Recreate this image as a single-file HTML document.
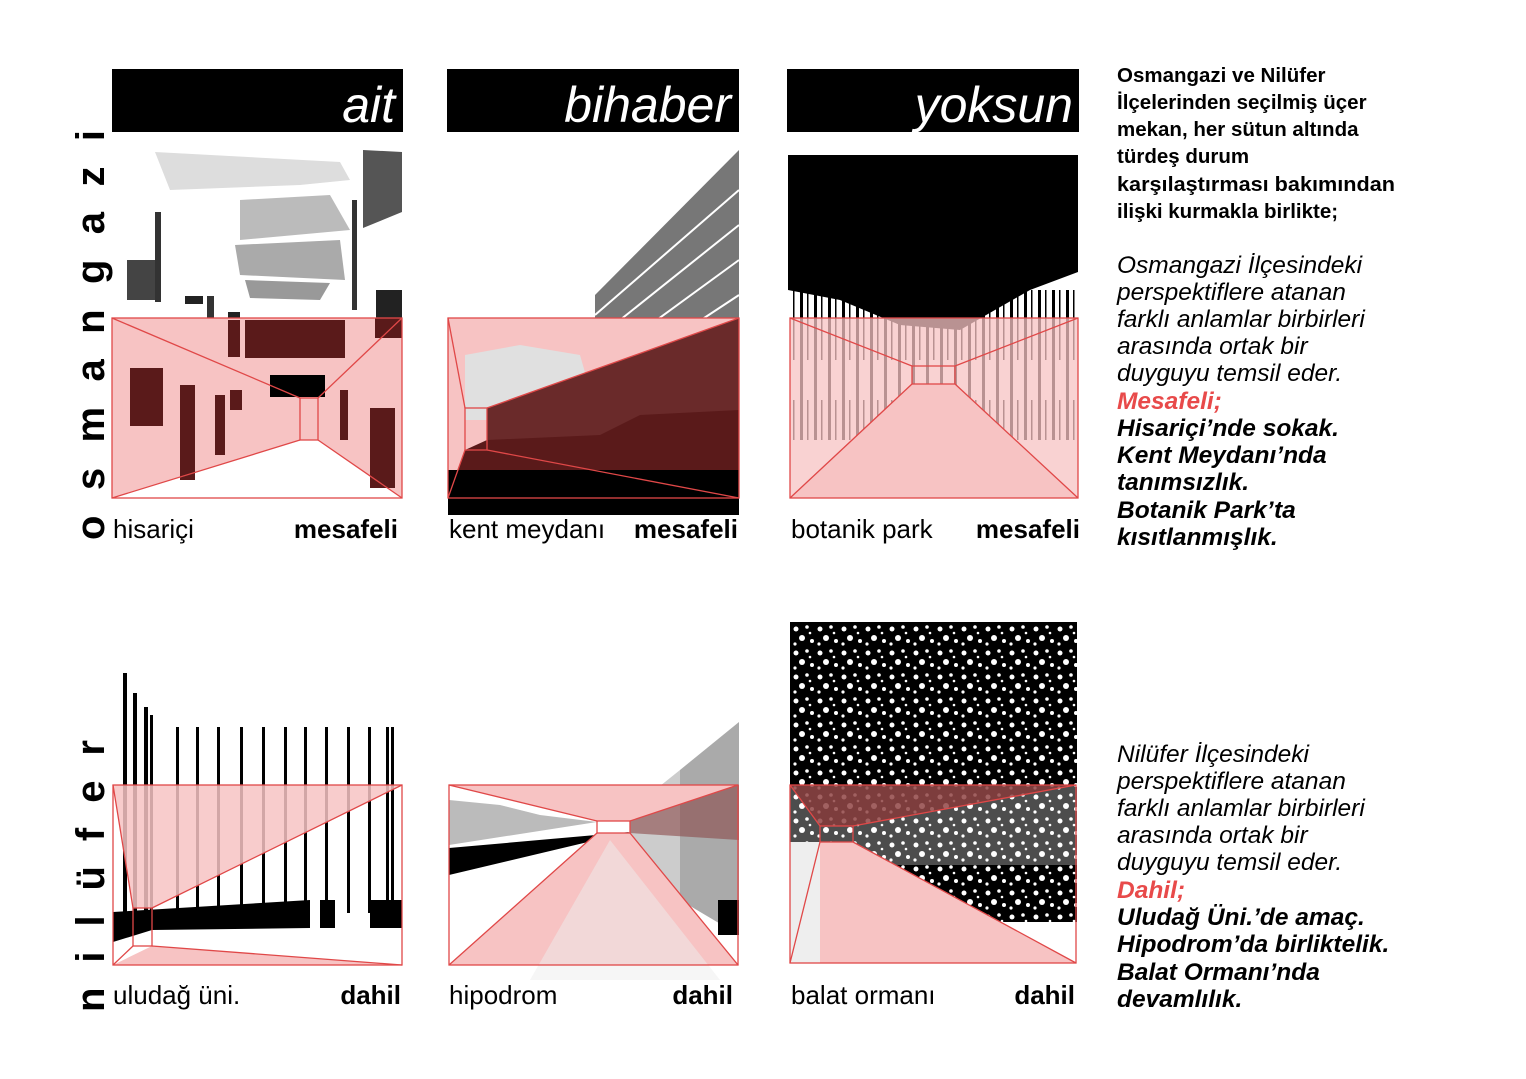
<!DOCTYPE html>
<html><head><meta charset="utf-8"><style>
html,body{margin:0;padding:0;background:#fff;}
svg{display:block}
text{font-family:"Liberation Sans",sans-serif}
</style></head><body>
<svg width="1526" height="1079" viewBox="0 0 1526 1079" xmlns="http://www.w3.org/2000/svg">
<defs>
<pattern id="noise" width="24" height="24" patternUnits="userSpaceOnUse">
<rect width="24" height="24" fill="#000"/>
<circle cx="4" cy="5" r="2.5" fill="#fff"/><circle cx="15" cy="3" r="1.8" fill="#fff"/>
<circle cx="10" cy="14" r="3" fill="#fff"/><circle cx="20" cy="17" r="2" fill="#fff"/>
<circle cx="3" cy="20" r="1.6" fill="#fff"/><circle cx="18" cy="9" r="1.3" fill="#fff"/>
</pattern>
<pattern id="trees" width="14" height="200" patternUnits="userSpaceOnUse">
<rect width="14" height="200" fill="#fff"/>
<rect x="2" width="3" height="200" fill="#000"/><rect x="9" width="1.5" height="160" fill="#000"/>
</pattern>
</defs>

<rect x="112" y="69" width="291" height="63" fill="#000"/>
<text x="395" y="122" font-size="50" font-style="italic" fill="#fff" text-anchor="end">ait</text>
<rect x="447" y="69" width="292" height="63" fill="#000"/>
<text x="731" y="122" font-size="50" font-style="italic" fill="#fff" text-anchor="end">bihaber</text>
<rect x="787" y="69" width="292" height="63" fill="#000"/>
<text x="1073" y="122" font-size="50" font-style="italic" fill="#fff" text-anchor="end">yoksun</text>

<text transform="translate(104,540) rotate(-90)" font-size="40" font-weight="bold" textLength="410" lengthAdjust="spacing">osmangazi</text>
<text transform="translate(104,1012) rotate(-90)" font-size="40" font-weight="bold" textLength="272" lengthAdjust="spacing">nilüfer</text>

<g>
<path d="M155 152 L340 162 L350 180 L300 185 L170 190 Z" fill="#ddd"/>
<path d="M240 200 L330 195 L350 230 L240 240 Z" fill="#bbb"/>
<path d="M235 245 L340 240 L345 280 L240 275 Z" fill="#aaa"/>
<path d="M245 280 L330 283 L320 300 L250 298 Z" fill="#999"/>
<path d="M363 150 L402 152 L402 212 L363 228 Z" fill="#555"/>
<rect x="127" y="260" width="30" height="40" fill="#444"/>
<rect x="155" y="212" width="6" height="90" fill="#333"/>
<rect x="352" y="200" width="5" height="110" fill="#333"/>
<rect x="376" y="290" width="26" height="28" fill="#222"/>
<rect x="185" y="296" width="18" height="8" fill="#222"/>
<rect x="207" y="296" width="7" height="55" fill="#333"/>
<rect x="228" y="312" width="12" height="45" fill="#222"/>
<rect x="245" y="320" width="100" height="38" fill="#222"/>
<path d="M112 318 H402 V498 H112 Z" fill="#f7c3c3"/>
<path d="M112 498 L300 440 H318 L402 498 Z" fill="#fff"/>
<rect x="245" y="320" width="100" height="38" fill="#5a1a1a"/>
<rect x="228" y="320" width="12" height="37" fill="#5a1a1a"/>
<rect x="130" y="368" width="33" height="58" fill="#5a1a1a"/>
<rect x="180" y="385" width="15" height="95" fill="#5a1a1a"/>
<rect x="215" y="395" width="10" height="60" fill="#5a1a1a"/>
<rect x="230" y="390" width="12" height="20" fill="#5a1a1a"/>
<rect x="270" y="375" width="55" height="22" fill="#000"/>
<rect x="340" y="390" width="8" height="50" fill="#5a1a1a"/>
<rect x="370" y="408" width="25" height="80" fill="#5a1a1a"/>
<rect x="375" y="318" width="27" height="20" fill="#5a1a1a"/>
<g fill="none" stroke="#e04848" stroke-width="1.3">
<rect x="112" y="318" width="290" height="180"/>
<rect x="300" y="398" width="18" height="42"/>
<path d="M112 318 L300 398 M402 318 L318 398 M112 498 L300 440 M402 498 L318 440"/>
</g>
</g>

<g>
<path d="M595 295 L739 150 V450 L595 450 Z" fill="#777"/>
<g stroke="#fff" stroke-width="2"><path d="M595 315 L739 190 M595 340 L739 225 M595 365 L739 260 M595 390 L739 295"/></g>
<path d="M448 318 H739 V498 H448 Z" fill="#f7c3c3"/>
<path d="M465 355 L520 345 L580 355 L590 390 L487 420 L465 420 Z" fill="#e0e0e0"/>
<path d="M487 408 L739 318 V450 L487 450 Z" fill="#6a2a2a"/>
<path d="M487 440 L600 435 L640 415 L739 410 V498 L448 498 L465 450 Z" fill="#5a1a1a"/>
<path d="M448 470 L739 470 V515 H448 Z" fill="#000"/>
<g fill="none" stroke="#e04848" stroke-width="1.3">
<rect x="448" y="318" width="291" height="180"/>
<rect x="465" y="408" width="22" height="42"/>
<path d="M448 318 L465 408 M739 318 L487 408 M448 498 L465 450 M739 498 L487 450"/>
</g>
</g>

<g>
<rect x="790" y="290" width="288" height="150" fill="url(#trees)"/>
<path d="M788 155 H1078 V272 L1030 290 L960 330 L900 325 L840 300 L788 290 Z" fill="#000"/>
<path d="M790 318 H1078 V498 H790 Z" fill="#f7c3c3" opacity="0.75"/>
<path d="M790 498 L912 384 H955 L1078 498 Z" fill="#f7c3c3"/>
<g fill="none" stroke="#e04848" stroke-width="1.3">
<rect x="790" y="318" width="288" height="180"/>
<rect x="912" y="366" width="43" height="18"/>
<path d="M790 318 L912 366 M1078 318 L955 366 M790 498 L912 384 M1078 498 L955 384"/>
</g>
</g>

<g font-size="26">
<text x="113" y="538">hisariçi</text><text x="398" y="538" font-weight="bold" text-anchor="end">mesafeli</text>
<text x="449" y="538">kent meydanı</text><text x="738" y="538" font-weight="bold" text-anchor="end">mesafeli</text>
<text x="791" y="538">botanik park</text><text x="1080" y="538" font-weight="bold" text-anchor="end">mesafeli</text>
</g>

<g>
<g fill="#000">
<rect x="123" y="673" width="4" height="240"/><rect x="133" y="693" width="4" height="220"/>
<rect x="144" y="707" width="4" height="206"/><rect x="150" y="715" width="3" height="198"/>
<rect x="176" y="727" width="3" height="186"/><rect x="196" y="727" width="3" height="186"/>
<rect x="217" y="727" width="3" height="186"/><rect x="240" y="727" width="3" height="186"/>
<rect x="262" y="727" width="3" height="186"/><rect x="284" y="727" width="3" height="186"/>
<rect x="304" y="727" width="3" height="186"/><rect x="325" y="727" width="3" height="186"/>
<rect x="347" y="727" width="3" height="186"/><rect x="368" y="727" width="3" height="186"/>
<rect x="386" y="727" width="3" height="186"/><rect x="391" y="727" width="3" height="186"/>
</g>
<path d="M113 785 H402 L152 908 H133 Z" fill="#f7c3c3" opacity="0.85"/>
<path d="M113 912 L310 900 V928 L152 930 L113 942 Z" fill="#000"/>
<rect x="320" y="900" width="15" height="28" fill="#000"/>
<rect x="370" y="900" width="32" height="28" fill="#000"/>
<path d="M113 965 L152 946 L402 965 Z" fill="#f7c3c3"/>
<g fill="none" stroke="#e04848" stroke-width="1.3">
<rect x="113" y="785" width="289" height="180"/>
<rect x="133" y="908" width="19" height="38"/>
<path d="M113 785 L133 908 M402 785 L152 908 M113 965 L133 946 M402 965 L152 946"/>
</g>
</g>

<g>
<path d="M680 770 L739 722 V935 L680 900 Z" fill="#aaa"/>
<path d="M630 810 L680 770 V900 L630 835 Z" fill="#ccc"/>
<path d="M449 800 L500 805 L540 815 L597 822 L449 845 Z" fill="#bbb"/>
<path d="M449 848 L630 832 L449 875 Z" fill="#000"/>
<path d="M449 785 H739 L630 821 H597 Z" fill="#f7c3c3"/>
<path d="M449 965 L597 833 H630 L739 965 Z" fill="#f7c3c3"/>
<path d="M530 980 L610 840 L720 980 Z" fill="#eee" opacity="0.5"/>
<path d="M630 821 L739 785 V840 L630 833 Z" fill="#8a4a4a" opacity="0.6"/>
<rect x="718" y="900" width="21" height="35" fill="#000"/>
<g fill="none" stroke="#e04848" stroke-width="1.3">
<rect x="449" y="785" width="289" height="180"/>
<rect x="597" y="821" width="33" height="12"/>
<path d="M449 785 L597 821 M738 785 L630 821 M449 965 L597 833 M738 965 L630 833"/>
</g>
</g>

<g>
<rect x="790" y="622" width="287" height="300" fill="url(#noise)"/>
<rect x="790" y="785" width="287" height="80" fill="#fff" opacity="0.3"/>
<path d="M790 785 H1076 L853 826 H820 Z" fill="#8a3a3a" opacity="0.8"/>
<path d="M790 963 L820 842 H853 L1076 963 Z" fill="#f7c3c3"/>
<rect x="790" y="842" width="30" height="121" fill="#eee"/>
<g fill="none" stroke="#e04848" stroke-width="1.3">
<rect x="790" y="785" width="286" height="178"/>
<rect x="820" y="826" width="33" height="16"/>
<path d="M790 785 L820 826 M1076 785 L853 826 M790 963 L820 842 M1076 963 L853 842"/>
</g>
</g>

<g font-size="26">
<text x="113" y="1004">uludağ üni.</text><text x="401" y="1004" font-weight="bold" text-anchor="end">dahil</text>
<text x="449" y="1004">hipodrom</text><text x="733" y="1004" font-weight="bold" text-anchor="end">dahil</text>
<text x="791" y="1004">balat ormanı</text><text x="1075" y="1004" font-weight="bold" text-anchor="end">dahil</text>
</g>

<g font-size="20.5" font-weight="bold">
<text x="1117" y="82">Osmangazi ve Nilüfer</text>
<text x="1117" y="109">İlçelerinden seçilmiş üçer</text>
<text x="1117" y="136">mekan, her sütun altında</text>
<text x="1117" y="163">türdeş durum</text>
<text x="1117" y="191" textLength="278" lengthAdjust="spacingAndGlyphs">karşılaştırması bakımından</text>
<text x="1117" y="218">ilişki kurmakla birlikte;</text>
</g>
<g font-size="24.5" font-style="italic">
<text x="1117" y="273">Osmangazi İlçesindeki</text>
<text x="1117" y="300">perspektiflere atanan</text>
<text x="1117" y="327">farklı anlamlar birbirleri</text>
<text x="1117" y="354">arasında ortak bir</text>
<text x="1117" y="381">duyguyu temsil eder.</text>
<text x="1117" y="409" font-weight="bold" fill="#e84a4a">Mesafeli;</text>
<g font-weight="bold">
<text x="1117" y="436">Hisariçi’nde sokak.</text>
<text x="1117" y="463">Kent Meydanı’nda</text>
<text x="1117" y="490">tanımsızlık.</text>
<text x="1117" y="518">Botanik Park’ta</text>
<text x="1117" y="545">kısıtlanmışlık.</text>
</g>
<text x="1117" y="762">Nilüfer İlçesindeki</text>
<text x="1117" y="789">perspektiflere atanan</text>
<text x="1117" y="816">farklı anlamlar birbirleri</text>
<text x="1117" y="843">arasında ortak bir</text>
<text x="1117" y="870">duyguyu temsil eder.</text>
<text x="1117" y="898" font-weight="bold" fill="#e84a4a">Dahil;</text>
<g font-weight="bold">
<text x="1117" y="925">Uludağ Üni.’de amaç.</text>
<text x="1117" y="952">Hipodrom’da birliktelik.</text>
<text x="1117" y="980">Balat Ormanı’nda</text>
<text x="1117" y="1007">devamlılık.</text>
</g>
</g>
</svg>
</body></html>
